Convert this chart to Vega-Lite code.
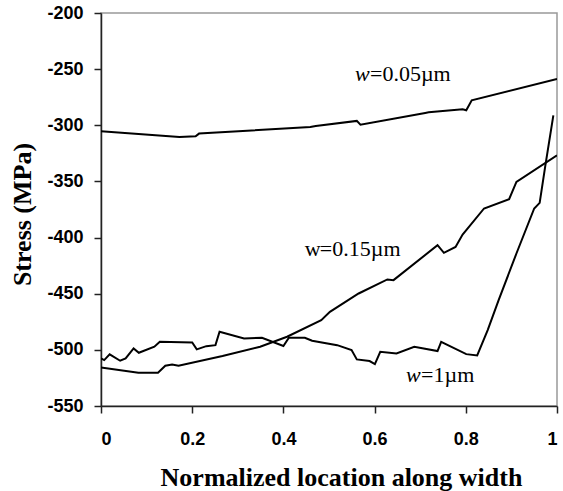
{
  "$schema": "https://vega.github.io/schema/vega-lite/v6.json",
  "autosize": "none",
  "width": 456,
  "height": 393,
  "padding": {"left": 101, "top": 13, "right": 6, "bottom": 85},
  "config": {
    "view": {"stroke": "#999999", "strokeWidth": 1.5},
    "axis": {"grid": false, "domainColor": "#222222", "domainWidth": 1.5, "tickColor": "#222222", "tickSize": 7, "tickWidth": 1.5,
      "labelFont": "Liberation Sans", "labelFontWeight": "bold", "labelFontSize": 18, "labelColor": "#000000",
      "titleFont": "Liberation Serif", "titleFontWeight": "bold", "titleFontSize": 26, "titleColor": "#000000"}
  },
  "datasets": {
    "curves": [
      {"series": "w005", "x": 0.0, "y": -305.3},
      {"series": "w005", "x": 0.172, "y": -310.4},
      {"series": "w005", "x": 0.2075, "y": -309.8},
      {"series": "w005", "x": 0.215, "y": -307.4},
      {"series": "w005", "x": 0.459, "y": -301.5},
      {"series": "w005", "x": 0.471, "y": -300.6},
      {"series": "w005", "x": 0.561, "y": -296.1},
      {"series": "w005", "x": 0.569, "y": -299.4},
      {"series": "w005", "x": 0.711, "y": -289.0},
      {"series": "w005", "x": 0.7186, "y": -288.4},
      {"series": "w005", "x": 0.793, "y": -285.7},
      {"series": "w005", "x": 0.801, "y": -286.6},
      {"series": "w005", "x": 0.813, "y": -277.7},
      {"series": "w005", "x": 1.0, "y": -258.8},

      {"series": "w015", "x": 0.0, "y": -515.6},
      {"series": "w015", "x": 0.082, "y": -520.4},
      {"series": "w015", "x": 0.125, "y": -520.4},
      {"series": "w015", "x": 0.141, "y": -514.1},
      {"series": "w015", "x": 0.156, "y": -513.0},
      {"series": "w015", "x": 0.17, "y": -514.1},
      {"series": "w015", "x": 0.2665, "y": -505.5},
      {"series": "w015", "x": 0.349, "y": -497.2},
      {"series": "w015", "x": 0.408, "y": -488.3},
      {"series": "w015", "x": 0.483, "y": -473.5},
      {"series": "w015", "x": 0.502, "y": -466.1},
      {"series": "w015", "x": 0.565, "y": -449.8},
      {"series": "w015", "x": 0.628, "y": -437.3},
      {"series": "w015", "x": 0.6415, "y": -437.9},
      {"series": "w015", "x": 0.738, "y": -406.8},
      {"series": "w015", "x": 0.752, "y": -413.6},
      {"series": "w015", "x": 0.7775, "y": -408.3},
      {"series": "w015", "x": 0.793, "y": -397.3},
      {"series": "w015", "x": 0.84, "y": -374.1},
      {"series": "w015", "x": 0.895, "y": -365.8},
      {"series": "w015", "x": 0.911, "y": -350.4},
      {"series": "w015", "x": 1.0, "y": -326.8},

      {"series": "w1", "x": 0.0, "y": -507.6},
      {"series": "w1", "x": 0.007, "y": -509.1},
      {"series": "w1", "x": 0.019, "y": -504.0},
      {"series": "w1", "x": 0.042, "y": -509.7},
      {"series": "w1", "x": 0.054, "y": -507.6},
      {"series": "w1", "x": 0.0715, "y": -498.7},
      {"series": "w1", "x": 0.083, "y": -502.6},
      {"series": "w1", "x": 0.117, "y": -497.2},
      {"series": "w1", "x": 0.129, "y": -492.8},
      {"series": "w1", "x": 0.2, "y": -493.4},
      {"series": "w1", "x": 0.21, "y": -499.6},
      {"series": "w1", "x": 0.231, "y": -496.7},
      {"series": "w1", "x": 0.251, "y": -495.8},
      {"series": "w1", "x": 0.26, "y": -483.9},
      {"series": "w1", "x": 0.3137, "y": -489.8},
      {"series": "w1", "x": 0.353, "y": -489.2},
      {"series": "w1", "x": 0.4, "y": -496.6},
      {"series": "w1", "x": 0.412, "y": -489.2},
      {"series": "w1", "x": 0.447, "y": -489.2},
      {"series": "w1", "x": 0.463, "y": -491.9},
      {"series": "w1", "x": 0.518, "y": -495.8},
      {"series": "w1", "x": 0.5495, "y": -500.2},
      {"series": "w1", "x": 0.561, "y": -508.5},
      {"series": "w1", "x": 0.589, "y": -510.0},
      {"series": "w1", "x": 0.6006, "y": -512.7},
      {"series": "w1", "x": 0.6124, "y": -501.7},
      {"series": "w1", "x": 0.648, "y": -503.2},
      {"series": "w1", "x": 0.687, "y": -497.2},
      {"series": "w1", "x": 0.738, "y": -501.1},
      {"series": "w1", "x": 0.746, "y": -492.8},
      {"series": "w1", "x": 0.801, "y": -503.8},
      {"series": "w1", "x": 0.825, "y": -505.0},
      {"series": "w1", "x": 0.848, "y": -482.4},
      {"series": "w1", "x": 0.872, "y": -455.7},
      {"series": "w1", "x": 0.911, "y": -414.2},
      {"series": "w1", "x": 0.95, "y": -374.1},
      {"series": "w1", "x": 0.962, "y": -369.1},
      {"series": "w1", "x": 0.974, "y": -337.0},
      {"series": "w1", "x": 0.992, "y": -291.1}
    ],
    "labels": [
      {"series": "w005", "x": 0.557, "y": -260.8, "w": "w", "rest": "=0.05µm", "italic": "yes"},
      {"series": "w015", "x": 0.447, "y": -416.5, "w": "w", "rest": "=0.15µm", "italic": "no"},
      {"series": "w1", "x": 0.669, "y": -528.4, "w": "w", "rest": "=1µm", "italic": "yes"}
    ]
  },
  "layer": [
    {
      "data": {"name": "curves"},
      "mark": {"type": "line", "color": "#000000", "strokeWidth": 2, "clip": true},
      "encoding": {
        "x": {"field": "x", "type": "quantitative",
          "scale": {"domain": [0, 1], "nice": false, "zero": false},
          "axis": {"values": [0, 0.2, 0.4, 0.6, 0.8, 1], "format": "~g", "labelPadding": 17,
            "title": "Normalized location along width", "titleX": 240, "titleY": 79, "titleBaseline": "alphabetic", "titleAlign": "center"}},
        "y": {"field": "y", "type": "quantitative",
          "scale": {"domain": [-550, -200], "nice": false, "zero": false},
          "axis": {"values": [-550, -500, -450, -400, -350, -300, -250, -200], "labelExpr": "'' + datum.value", "labelPadding": 11,
            "title": "Stress (MPa)", "titleX": -79, "titleY": 201, "titleAngle": -90, "titleAlign": "center", "titleBaseline": "middle"}},
        "detail": {"field": "series", "type": "nominal"},
        "order": {"field": "x", "type": "quantitative"}
      }
    },
    {
      "data": {"name": "labels"},
      "transform": [{"filter": "datum.italic == 'yes'"}],
      "mark": {"type": "text", "align": "left", "baseline": "alphabetic", "font": "Liberation Serif", "fontStyle": "italic", "fontSize": 22, "color": "#000000"},
      "encoding": {
        "x": {"field": "x", "type": "quantitative"},
        "y": {"field": "y", "type": "quantitative"},
        "text": {"field": "w"}
      }
    },
    {
      "data": {"name": "labels"},
      "transform": [{"filter": "datum.italic == 'no'"}],
      "mark": {"type": "text", "align": "left", "baseline": "alphabetic", "font": "Liberation Serif", "fontSize": 22, "color": "#000000"},
      "encoding": {
        "x": {"field": "x", "type": "quantitative"},
        "y": {"field": "y", "type": "quantitative"},
        "text": {"field": "w"}
      }
    },
    {
      "data": {"name": "labels"},
      "mark": {"type": "text", "align": "left", "baseline": "alphabetic", "font": "Liberation Serif", "fontSize": 22, "color": "#000000", "dx": 15},
      "encoding": {
        "x": {"field": "x", "type": "quantitative"},
        "y": {"field": "y", "type": "quantitative"},
        "text": {"field": "rest"}
      }
    }
  ]
}
